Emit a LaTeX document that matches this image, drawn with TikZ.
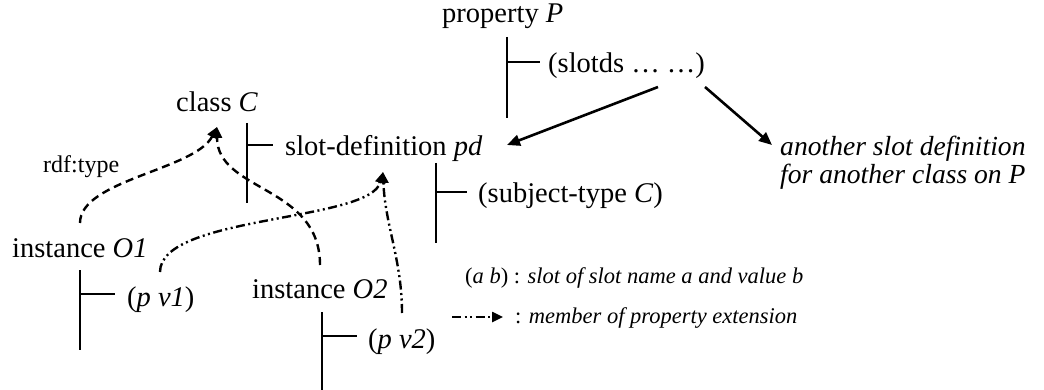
\documentclass[tikz,border=0pt]{standalone}
\usepackage{fontspec}
\setmainfont{Liberation Serif}
\usepackage{tikz}
\usetikzlibrary{arrows.meta,positioning,calc}
\tikzset{
  node-txt/.style={inner sep=0pt,anchor=base west,font=\fontsize{28.5}{34}\selectfont},
  node-note/.style={inner sep=0pt,anchor=base west,font=\fontsize{22.5}{27}\selectfont},
  tree-line/.style={line width=1.1pt},
  arrow/.style={-{Triangle[length=13pt,width=11pt]},line width=2.6pt},
  arrow-type/.style={-{Triangle[length=11pt,width=10pt]},line width=2.4pt,
    dash pattern=on 8pt off 5pt},
  arrow-member/.style={-{Triangle[length=11pt,width=10pt]},line width=2.4pt,
    dash pattern=on 9pt off 3.5pt on 2pt off 3.5pt on 2pt off 3.5pt},
}
\begin{document}
\begin{tikzpicture}[x=1pt,y=-1pt]
  \useasboundingbox (0,0) rectangle (1044,390);
  % tree of property P
  \node[node-txt] (prop)   at (442,23)  {property \textit{P}};
  \node[node-txt] (slotds) at (548,73)  {(slotds … …)};
  \draw[tree-line] (507,37) -- (507,118) (507,62) -- (540,62);
  % tree of class C
  \node[node-txt] (cls)   at (176,112) {class \textit{C}};
  \node[node-txt] (sdef)  at (285,156) {slot-definition \textit{pd}};
  \node[node-txt] (stype) at (478,203) {(subject-type \textit{C})};
  \draw[tree-line] (247,123) -- (247,203) (247,145) -- (273,145);
  \draw[tree-line] (436,163) -- (436,243) (436,192) -- (467,192);
  % instances
  \node[node-txt] (o1)  at (12,257)  {instance \textit{O1}};
  \node[node-txt] (pv1) at (127,306) {(\textit{p v1})};
  \draw[tree-line] (80,270) -- (80,350) (80,294) -- (115,294);
  \node[node-txt] (o2)  at (252,298) {instance \textit{O2}};
  \node[node-txt] (pv2) at (368,348) {(\textit{p v2})};
  \draw[tree-line] (322,312) -- (322,390) (322,336) -- (357,336);
  % other slot definition
  \node[inner sep=0pt,anchor=north west,align=left,
    font=\fontsize{27.6}{28}\selectfont] (other) at (780,135.5)
    {\textit{another slot definition}\\\textit{for another class on P}};
  % connector ends
  \coordinate (slotds-l) at (658,87);
  \coordinate (slotds-r) at (705,87);
  \coordinate (sdef-in)  at (507,145);
  \coordinate (other-in) at (772,145);
  \coordinate (cls-in)   at (217,127);
  \coordinate (sdef-mem) at (383,172);
  \coordinate (o1-top)   at (80,223);
  \coordinate (o2-top)   at (320,265);
  \coordinate (pv1-top)  at (160,272);
  \coordinate (pv2-top)  at (402,313);
  \draw[arrow] (slotds-l) -- (sdef-in);
  \draw[arrow] (slotds-r) -- (other-in);
  \draw[arrow-type] (o1-top) .. controls (80,180) and (195,170) .. (cls-in);
  \draw[arrow-type] (o2-top) .. controls (320,185) and (217,192) .. (cls-in);
  \node[node-txt,font=\fontsize{24}{28}\selectfont] (rdf) at (43,173) {rdf:type};
  \draw[arrow-member] (pv1-top) .. controls (160,215) and (370,222) .. (sdef-mem);
  \draw[arrow-member] (pv2-top) .. controls (402,260) and (385,225) .. (sdef-mem);
  % legend
  \node[node-note] (key-slot) at (465,283)
    {(\textit{a b}) : \textit{slot of slot name a and value b}};
  \node[node-note] (key-mem) at (515,323) {: \textit{member of property extension}};
  \coordinate (key-a) at (452,317);
  \coordinate (key-b) at (503,317);
  \draw[arrow-member] (key-a) -- (key-b);
\end{tikzpicture}
\end{document}
